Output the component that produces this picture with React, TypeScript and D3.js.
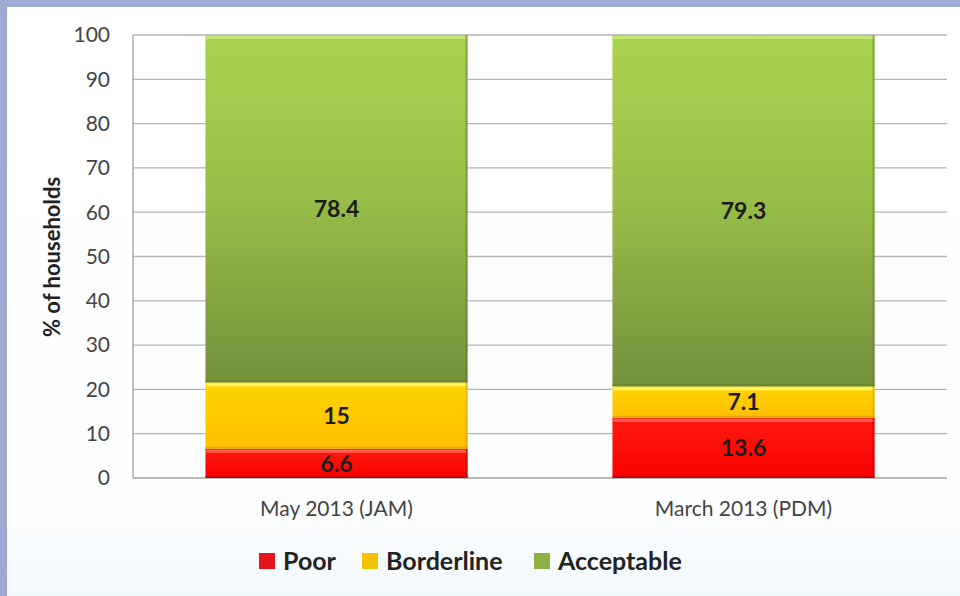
import React from "react";
import * as d3 from "d3";

const categories = ["May 2013 (JAM)", "March 2013 (PDM)"];
const seriesNames = ["Poor", "Borderline", "Acceptable"];
const poor = [6.6, 13.6];
const borderline = [15, 7.1];
const acceptable = [78.4, 79.3];
const yTicks = [0, 10, 20, 30, 40, 50, 60, 70, 80, 90, 100];

const W = 960, H = 596;
const M = { left: 133, right: 947, top: 35, bottom: 478 };

const fills = ["url(#gPoor)", "url(#gBorder)", "url(#gAcc)"];
const legendColors = ["#e3141b", "#f2c400", "#8db043"];
const font = "Lato, 'Open Sans', 'Noto Sans', sans-serif";

export default function App() {
  const x = d3.scaleBand<string>().domain(categories).range([M.left, M.right]).paddingInner(0.356).paddingOuter(0.178);
  const y = d3.scaleLinear().domain([0, 100]).range([M.bottom, M.top]);
  const table = categories.map((c, i) => ({ cat: c, Poor: poor[i], Borderline: borderline[i], Acceptable: acceptable[i] }));
  const stacked = d3.stack<any>().keys(seriesNames)(table);
  const legendX = [259, 362, 534];

  return (
    <svg width={W} height={H} style={{ position: "absolute", left: 0, top: 0 }} fontFamily={font}>
      <defs>
        <linearGradient id="gAcc" x1="0" y1="0" x2="0" y2="1">
          <stop offset="0%" stopColor="#aad34f" />
          <stop offset="45%" stopColor="#98bf48" />
          <stop offset="100%" stopColor="#75913b" />
        </linearGradient>
        <linearGradient id="gBorder" x1="0" y1="0" x2="0" y2="1">
          <stop offset="0%" stopColor="#ffd400" />
          <stop offset="100%" stopColor="#ffbf00" />
        </linearGradient>
        <linearGradient id="gPoor" x1="0" y1="0" x2="0" y2="1">
          <stop offset="0%" stopColor="#ff1a10" />
          <stop offset="100%" stopColor="#f70000" />
        </linearGradient>
        <linearGradient id="bg" x1="0" y1="0" x2="0" y2="1">
          <stop offset="0%" stopColor="#ffffff" />
          <stop offset="85%" stopColor="#fdfeff" />
          <stop offset="100%" stopColor="#f2f9fd" />
        </linearGradient>
      </defs>
      <rect x={0} y={0} width={W} height={H} fill="url(#bg)" />
      <rect x={0} y={0} width={W} height={7} fill="#9eaad2" />
      <rect x={0} y={0} width={7} height={H} fill="#9eaad2" />

      {yTicks.map((t) => (
        <g key={t}>
          <line x1={M.left} x2={M.right} y1={y(t)} y2={y(t)} stroke={t === 0 ? "#a0a0a0" : "#b4b4b4"} strokeWidth={1.3} />
          <text x={110} y={y(t)} dy="0.35em" textAnchor="end" fontSize={21} fill="#444">{t}</text>
        </g>
      ))}
      <line x1={M.left} x2={M.left} y1={M.top} y2={M.bottom} stroke="#a0a0a0" strokeWidth={1.3} />

      <text transform={`translate(60,257) rotate(-90)`} textAnchor="middle" fontSize={22} fontWeight="bold" fill="#222">% of households</text>

      {stacked.map((s, si) => (
        <g key={s.key}>
          {s.map((d, i) => {
            const x0 = x(categories[i])!;
            const bw = x.bandwidth();
            const y0 = y(d[1]);
            const h = y(d[0]) - y(d[1]);
            const hl = si === 2 ? "#c8ec7a" : si === 1 ? "#ffff70" : "#ff7060";
            const sh = si === 2 ? "#5d7530" : si === 1 ? "#d89a00" : "#b00000";
            return (
              <g key={i}>
                <rect x={x0} y={y0} width={bw} height={h} fill={fills[si]} />
                <rect x={x0 + 1} y={y0 + 1} width={bw - 2} height={3} fill={hl} opacity={0.8} />
                <rect x={x0} y={y0 + h - 2} width={bw} height={2} fill={sh} opacity={0.6} />
                <rect x={x0 + bw - 2} y={y0} width={2} height={h} fill={sh} opacity={0.5} />
                <text x={x0 + bw / 2} y={(y0 + y(d[0])) / 2} dy="0.36em" textAnchor="middle" fontSize={23} fontWeight="bold" fill="#1c1c1c">
                  {d.data[s.key]}
                </text>
              </g>
            );
          })}
        </g>
      ))}

      {categories.map((c) => (
        <text key={c} x={x(c)! + x.bandwidth() / 2} y={509} dy="0.35em" textAnchor="middle" fontSize={21} fill="#444">{c}</text>
      ))}

      {seriesNames.map((n, i) => (
        <g key={n}>
          <rect x={legendX[i]} y={553} width={16} height={16} fill={legendColors[i]} />
          <text x={legendX[i] + 24} y={561} dy="0.36em" fontSize={25} fontWeight="bold" fill="#222">{n}</text>
        </g>
      ))}
    </svg>
  );
}
